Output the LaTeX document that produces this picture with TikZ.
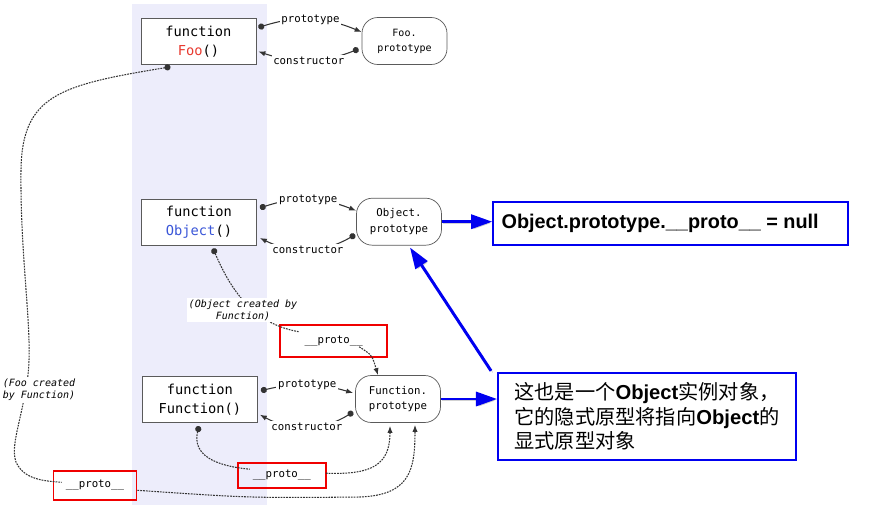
\documentclass[tikz,border=0pt]{standalone}
\usepackage{fontspec}
\setmainfont{Liberation Sans}
\setmonofont{DejaVu Sans Mono}
\newfontfamily\cjk{Noto Sans CJK SC}
\newcommand{\enbf}[1]{{\normalfont\bfseries #1}}
\usetikzlibrary{arrows.meta, positioning, calc}

\begin{document}
\begin{tikzpicture}[
  x=0.02cm, y=-0.02cm,
  >={Latex[length=4pt,width=3pt]},
  fbox/.style={draw=cborder, fill=white, minimum width=2.3cm, minimum height=0.92cm,
               align=center, inner sep=1pt, font=\ttfamily\fontsize{7.8}{10.8}\selectfont},
  pbox/.style={draw=cborder, fill=white, rounded corners=9pt, minimum width=1.7cm,
               minimum height=0.94cm, align=center, inner sep=1pt,
               font=\ttfamily\fontsize{6.1}{8.8}\selectfont},
  lbl/.style={fill=white, inner sep=1pt, font=\ttfamily\fontsize{6.1}{7}\selectfont},
  note/.style={fill=white, inner sep=1pt, align=center,
               font=\ttfamily\itshape\fontsize{5.7}{6.9}\selectfont},
  protobox/.style={draw=cred, line width=1.1pt, font=\ttfamily\fontsize{6.1}{7}\selectfont},
  infobox/.style={draw=cblue, line width=1.1pt, fill=white},
  link/.style={draw=cline, line width=0.6pt, {Circle[length=3.5pt]}->},
  dline/.style={draw=cline, line width=0.6pt, dash pattern=on 1pt off 0.6pt},
  barr/.style={draw=cblue, line width=1.7pt, -{Triangle[length=12pt,width=8pt]},
               preaction={draw=black!18, transform canvas={shift={(0.9pt,-0.9pt)}}}},
]
\definecolor{cband}{HTML}{EDEDFB}
\definecolor{cborder}{HTML}{5A5A5A}
\definecolor{cline}{HTML}{333333}
\definecolor{cfoo}{HTML}{E8392F}
\definecolor{cobj}{HTML}{3A56D8}
\definecolor{cred}{HTML}{F00000}
\definecolor{cblue}{HTML}{0000F0}
\useasboundingbox (0,0) rectangle (876,514);
\fill[cband] (132,4) rectangle (267,505);
% functions and their prototypes
\node[fbox] (foo) at (198.5,41.5) {function\\\textcolor{cfoo}{Foo}()};
\node[pbox, font=\ttfamily\fontsize{5.7}{8.6}\selectfont] (foop) at (404.5,41) {Foo.\\prototype};
\node[fbox] (obj) at (199,222) {function\\\textcolor{cobj}{Object}()};
\node[pbox] (objp) at (399,221.7) {Object.\\prototype};
\node[fbox] (fun) at (200,399.7) {function\\Function()};
\node[pbox] (funp) at (398,399) {Function.\\prototype};
\node[protobox, minimum width=2.14cm, minimum height=0.64cm] (pr1) at (333.7,340.8) {\_\_proto\_\_};
\node[protobox, minimum width=1.76cm, minimum height=0.5cm] (pr2) at (281.8,475.2) {\_\_proto\_\_};
\node[protobox, minimum width=1.66cm, minimum height=0.58cm] (pr3) at (95,485.3) {\_\_proto\_\_};
\node[infobox, minimum width=7.1cm, minimum height=0.86cm,
      font=\bfseries\fontsize{11.3}{13}\selectfont] (nullbox) at (670.7,223.3)
      {Object.prototype.\_\_proto\_\_ = null\hspace*{12pt}};
\node[infobox, minimum width=5.96cm, minimum height=1.74cm, align=left,
      font=\cjk\fontsize{11.5}{14.2}\selectfont] (cnbox) at (647,416.3)
      {这也是一个\enbf{Object}实例对象，\\它的隐式原型将指向\enbf{Object}的\\显式原型对象};
% prototype / constructor
\draw[link] ($(foo.east)+(2,-14)$) to[bend left=20] node[lbl]{prototype} ($(foop.west)+(0,-9)$);
\draw[link] ($(foop.west)+(-3,8)$) to[bend left=20] node[lbl]{constructor} ($(foo.east)+(2,10)$);
\draw[link] ($(obj.east)+(3,-14)$) to[bend left=20] node[lbl]{prototype} ($(objp.west)+(0,-11)$);
\draw[link] ($(objp.west)+(-1,13)$) to[bend left=28] node[lbl]{constructor} ($(obj.east)+(3,16)$);
\draw[link] ($(fun.east)+(3,-9)$) to[bend left=15] node[lbl]{prototype} ($(funp.west)+(-2,-6)$);
\draw[link] ($(funp.west)+(-2,13)$) to[bend left=30] node[lbl]{constructor} ($(fun.east)+(2,15)$);
% __proto__ chains
\draw[dline, {Circle[length=3.5pt]}-] ($(foo.south)+(-28,2)$) .. controls (60,85) and (22,95) .. (21,170)
  .. controls (20,260) and (33,330) .. (28,375) .. controls (22,420) and (10,445) .. (16,462)
  .. controls (24,480) and (45,481) .. ($(pr3.west)+(9,-3)$);
\draw[dline, ->] ($(pr3.east)+(0,5)$) .. controls (250,498) .. (360,497)
  .. controls (410,495) and (415,470) .. ($(funp.south)+(17,2)$);
\draw[dline, {Circle[length=3.5pt]}-] ($(fun.south)+(-1,3)$) .. controls (192,455) and (215,466) .. ($(pr2.west)+(13,-6)$);
\draw[dline, ->] ($(pr2.east)+(-1,-2)$) .. controls (372,475) and (390,465) .. ($(funp.south)+(-8,3)$);
\draw[dline, {Circle[length=3.5pt]}-] ($(obj.south)+(14,3)$) .. controls (235,300) and (260,325) .. ($(pr1.west)+(20,-9)$);
\draw[dline, ->] ($(pr1.east)+(-29,6)$) .. controls (372,355) .. ($(funp.north)+(-20,0)$);
\node[note] (objnote) at (243,310) {(Object created by\\Function)};
\node[note] (foonote) at (39,390) {(Foo created\\by Function)};
% notes
\draw[barr] (objp.east) -- (objp.east -| nullbox.west);
\draw[barr] (funp.east) -- (funp.east -| cnbox.west);
\draw[barr] ($(cnbox.north west)+(-6,-1)$) -- ($(objp.south)+(11,2)$);
\end{tikzpicture}
\end{document}
